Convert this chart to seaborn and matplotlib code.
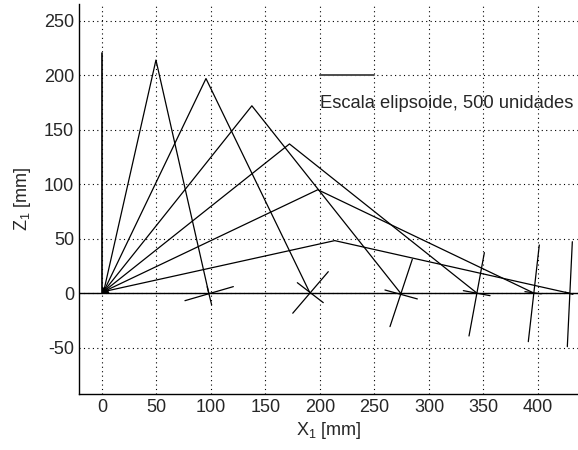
import matplotlib
matplotlib.use("Agg")
import matplotlib.pyplot as plt
import seaborn as sns
import pandas as pd

# leg configurations: hip -> knee -> foot
hip_x = 1.5
hip_z = 1.5
knee_x = [49.5, 95.4, 137.5, 172.0, 198.0, 213.5]
knee_z = [214.0, 197.0, 172.0, 137.0, 95.0, 48.3]
foot_x = [98.0, 190.5, 274.0, 343.5, 395.5, 429.0]
foot_z = [0.0, 0.8, 0.0, 0.5, 0.5, 0.0]

# ellipsoid axes at each foot (segment end points)
axis_a_x0 = [76.1, 175.0, 264.2, 336.7, 391.1, 426.9]
axis_a_z0 = [-6.8, -18.3, -30.6, -39.2, -44.4, -49.0]
axis_a_x1 = [120.5, 207.6, 284.7, 350.8, 401.2, 431.5]
axis_a_z1 = [6.1, 19.8, 31.2, 37.3, 44.3, 47.3]
axis_b_x0 = [96.5, 179.2, 259.6, 331.5, 388.0, 425.0]
axis_b_z0 = [6.0, 9.7, 3.0, 2.4, 1.5, 1.0]
axis_b_x1 = [100.6, 203.0, 289.3, 356.0, 403.0, 432.0]
axis_b_z1 = [-10.7, -8.6, -5.2, -2.2, -0.5, -1.0]

# small ellipsoid at the origin
origin_x = [0, 7, 6, 2, 0]
origin_z = [0, 0, 2, 5, 6]

post_x = [0, 0]
post_z = [0, 220]

scale_x = [200, 250]
scale_z = [200, 200]
scale_text = "Escala elipsoide, 500 unidades"

sns.set_style("white")
plt.rcParams["font.family"] = ["Liberation Sans", "DejaVu Sans"]
plt.rcParams["font.size"] = 13
plt.rcParams["axes.unicode_minus"] = False

rows = []
for i in range(len(knee_x)):
    rows.append({"leg": i, "x": hip_x, "z": hip_z})
    rows.append({"leg": i, "x": knee_x[i], "z": knee_z[i]})
    rows.append({"leg": i, "x": foot_x[i], "z": foot_z[i]})
legs = pd.DataFrame(rows)

seg_rows = []
k = 0
for i in range(len(axis_a_x0)):
    seg_rows.append({"seg": k, "x": axis_a_x0[i], "z": axis_a_z0[i]})
    seg_rows.append({"seg": k, "x": axis_a_x1[i], "z": axis_a_z1[i]})
    k += 1
    seg_rows.append({"seg": k, "x": axis_b_x0[i], "z": axis_b_z0[i]})
    seg_rows.append({"seg": k, "x": axis_b_x1[i], "z": axis_b_z1[i]})
    k += 1
segs = pd.DataFrame(seg_rows)

fig = plt.figure(figsize=(5.78, 4.5), dpi=100)
ax = fig.add_axes([79 / 578, (450 - 394.3) / 450, 1 - 79 / 578, (394.3 - 4) / 450])

lw = 0.9
sns.lineplot(data=legs, x="x", y="z", units="leg", estimator=None, sort=False,
             color="k", lw=lw, ax=ax, legend=False)
sns.lineplot(data=segs, x="x", y="z", units="seg", estimator=None, sort=False,
             color="k", lw=lw, ax=ax, legend=False)
ax.plot(post_x, post_z, color="k", lw=1.2)
ax.fill(origin_x, origin_z, color="k", lw=0)
ax.axhline(0, color="k", lw=1.0)
ax.plot(scale_x, scale_z, color="0.3", lw=1.4)
ax.text(scale_x[0], 174, scale_text, ha="left", va="center", fontsize=13.2)

ax.set_xlim(-21.1, 436.7)
ax.set_ylim(-92.7, 265.4)
ax.set_xticks(range(0, 401, 50))
ax.set_yticks(range(-50, 251, 50))
ax.grid(True, color="k", linestyle=(0, (1, 3)), lw=0.8)
ax.tick_params(direction="in", length=4, labelsize=13, color="k")
for side in ["top", "right"]:
    ax.spines[side].set_visible(False)
for side in ["left", "bottom"]:
    ax.spines[side].set_color("k")
    ax.spines[side].set_linewidth(1.0)

ax.set_xlabel(r"X$_{\mathregular{1}}$ [mm]", fontsize=13, labelpad=3)
ax.set_ylabel(r"Z$_{\mathregular{1}}$ [mm]", fontsize=13, labelpad=8)

fig.savefig("out.png", dpi=100)
